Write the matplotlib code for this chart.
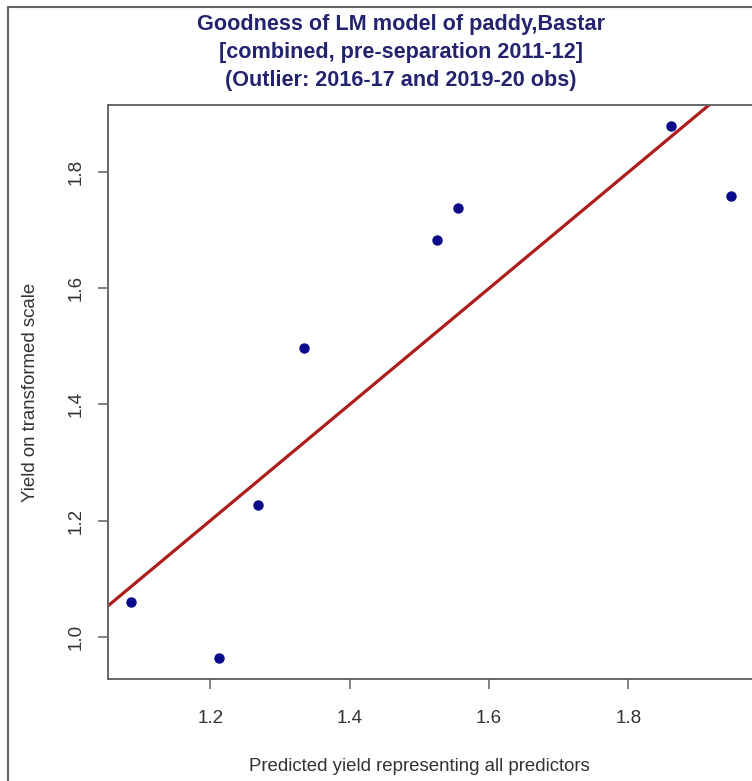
import matplotlib
matplotlib.use("Agg")
import matplotlib.pyplot as plt
from matplotlib.patches import Rectangle

# Datos
predicho = [1.086, 1.213, 1.269, 1.335, 1.525, 1.555, 1.862, 1.947]
observado = [1.060, 0.964, 1.226, 1.497, 1.683, 1.738, 1.879, 1.759]
ticks_x = [1.2, 1.4, 1.6, 1.8]
ticks_y = [1.0, 1.2, 1.4, 1.6, 1.8]

titulo = ("Goodness of LM model of paddy,Bastar\n"
          "[combined, pre-separation 2011-12]\n"
          "(Outlier: 2016-17 and 2019-20 obs)")

plt.rcParams["font.family"] = ["Liberation Sans", "DejaVu Sans"]

fig = plt.figure(figsize=(7.52, 7.81), dpi=100)
ax = fig.add_axes([108 / 752, 1 - 679 / 781, 647 / 752, 574 / 781])

# puntos y recta de referencia
ax.plot(predicho, observado, "o", color="#0a0a8c", markersize=6.5)
ax.axline((1.0, 1.0), slope=1.0, color="#b01c1c", linewidth=2.3)

ax.set_xlim(1.053, 1.982)
ax.set_ylim(0.927, 1.916)
ax.set_xticks(ticks_x)
ax.set_yticks(ticks_y)
ax.set_xticklabels([f"{t:.1f}" for t in ticks_x])
ax.set_yticklabels([f"{t:.1f}" for t in ticks_y], rotation=90, va="center")
ax.tick_params(direction="out", length=7, width=1.3, colors="#777777",
               labelcolor="#333333", labelsize=13.5)
ax.tick_params(axis="x", pad=15.5)
ax.tick_params(axis="y", pad=10)
for s in ax.spines.values():
    s.set_color("#666666")
    s.set_linewidth(1.4)

ax.set_xlabel("Predicted yield representing all predictors", fontsize=13.4,
              color="#333333")
ax.xaxis.set_label_coords(0.481, -0.138)
ax.set_ylabel("Yield on transformed scale", fontsize=13.4, color="#333333")
ax.yaxis.set_label_coords(-0.106, 0.5)

fig.text(401 / 752, 1 - 52.5 / 781, titulo, ha="center", va="center",
         fontsize=15.6, fontweight="bold", color="#23236e", linespacing=1.44)

# borde exterior
fig.patches.append(Rectangle((8 / 752, -0.05), 1.1, 1.05 - 7 / 781,
                             transform=fig.transFigure, fill=False,
                             edgecolor="#666666", linewidth=1.5))

fig.savefig("out.png", dpi=100)
